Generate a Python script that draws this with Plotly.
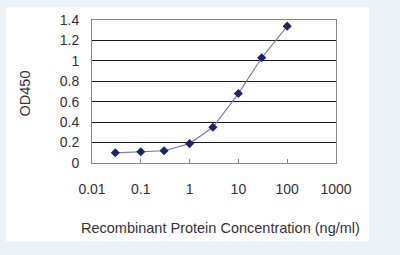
import plotly.graph_objects as go

conc = [0.03, 0.1, 0.3, 1, 3, 10, 30, 100]
od450 = [0.10, 0.11, 0.12, 0.19, 0.35, 0.68, 1.03, 1.34]
xticks = [0.01, 0.1, 1, 10, 100, 1000]
xticklabels = ["0.01", "0.1", "1", "10", "100", "1000"]
yticks = [0, 0.2, 0.4, 0.6, 0.8, 1, 1.2, 1.4]
yticklabels = ["0", "0.2", "0.4", "0.6", "0.8", "1", "1.2", "1.4"]

L, R, T, B = 92, 64, 17, 92
W, H = 400, 255
pw, ph = W - L - R, H - T - B

def px(x):
    return (x - L) / pw

def py(y):
    return (H - B - y) / ph

fig = go.Figure()
fig.add_trace(go.Scatter(
    x=conc, y=od450, mode="lines+markers",
    line=dict(color="#7c80a8", width=1.2),
    marker=dict(symbol="diamond", size=7, color="#1c2470"),
    showlegend=False,
))

font = dict(family="Liberation Sans, Arial, sans-serif", size=14, color="#333333")

fig.update_layout(
    width=W, height=H,
    margin=dict(l=L, r=R, t=T, b=B),
    paper_bgcolor="#eaf2f8",
    plot_bgcolor="white",
    font=font,
    xaxis=dict(
        type="log", range=[-2, 3],
        tickvals=xticks, ticktext=xticklabels,
        ticks="inside", ticklen=4, tickcolor="#888888",
        showgrid=False, zeroline=False,
        showline=True, linecolor="#888888", linewidth=1, mirror=True,
        ticklabelstandoff=13,
    ),
    yaxis=dict(
        range=[0, 1.4],
        tickvals=yticks, ticktext=yticklabels,
        ticks="", showgrid=True, gridcolor="#1a1a1a", gridwidth=1,
        zeroline=False,
        showline=True, linecolor="#888888", linewidth=1, mirror=True,
        ticklabelstandoff=9,
    ),
    shapes=[dict(
        type="rect", xref="paper", yref="paper", layer="below",
        x0=px(6), x1=px(369), y0=py(243), y1=py(4),
        fillcolor="white", line=dict(width=0),
    )],
    annotations=[
        dict(text="OD450", xref="paper", yref="paper",
             x=px(25), y=py(92), textangle=-90, showarrow=False,
             xanchor="center", yanchor="middle", font=dict(size=14.5, color="#333333")),
        dict(text="Recombinant Protein Concentration (ng/ml)", xref="paper", yref="paper",
             x=px(220), y=py(229), showarrow=False,
             xanchor="center", yanchor="middle", font=dict(size=14.5, color="#333333")),
    ],
)

fig.write_html("out.html")
